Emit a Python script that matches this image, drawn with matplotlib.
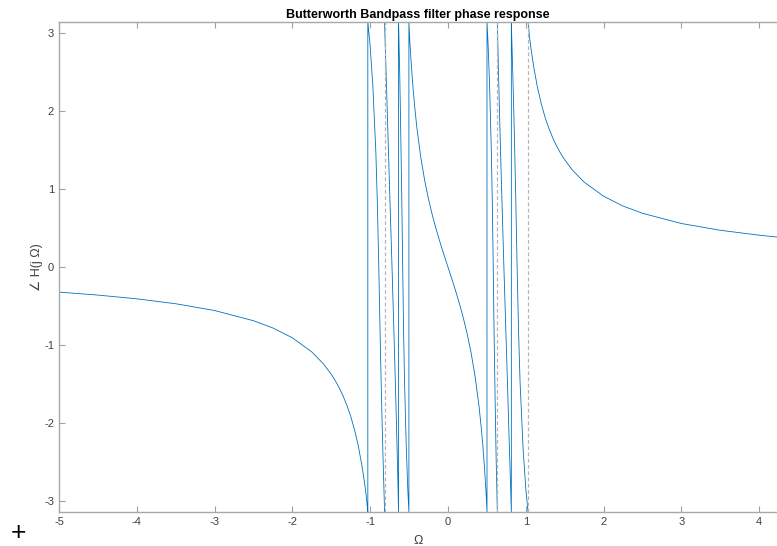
import numpy as np
import matplotlib
matplotlib.use("Agg")
from matplotlib import pyplot as plt

plt.rcParams['font.family'] = ['Liberation Sans', 'DejaVu Sans']
plt.rcParams['axes.unicode_minus'] = False

PI = np.pi

# branch A: far left, down to the first wrap
om_a = [-5.0, -4.5, -4.0, -3.5, -3.0, -2.5, -2.25, -2.0, -1.75, -1.6, -1.5, -1.45, -1.4, -1.35,
        -1.3, -1.25, -1.2, -1.15, -1.1, -1.07, -1.05, -1.04, -1.03]
ph_a = [-0.322, -0.36, -0.408, -0.471, -0.558, -0.689, -0.782, -0.908, -1.089, -1.243, -1.376, -1.455,
        -1.545, -1.649, -1.772, -1.914, -2.091, -2.306, -2.581, -2.784, -2.938, -3.039, -PI]
# steep wrapped branches on the left
om_b = [-1.03, -1.002, -0.966, -0.927, -0.908, -0.889, -0.871, -0.853, -0.835, -0.817, -0.815]
ph_b = [PI, 2.858, 2.334, 1.475, 0.837, 0.0, -0.917, -1.731, -2.429, -3.054, -PI]
om_c = [-0.815, -0.8, -0.783, -0.767, -0.751, -0.735, -0.719, -0.704, -0.689, -0.674, -0.660, -0.646, -0.635]
ph_c = [PI, 2.647, 2.091, 1.555, 1.030, 0.514, 0.0, -0.514, -1.030, -1.555, -2.091, -2.647, -PI]
om_d = [-0.635, -0.633, -0.619, -0.607, -0.594, -0.582, -0.570, -0.558, -0.535, -0.516, -0.502]
ph_d = [PI, 3.054, 2.429, 1.731, 0.917, 0.0, -0.837, -1.475, -2.334, -2.858, -PI]
# centre branch
om_e = [-0.502, -0.49, -0.47, -0.45, -0.43, -0.4, -0.35, -0.3, -0.25, -0.2, -0.15, -0.1, -0.05, 0.0,
        0.05, 0.1, 0.15, 0.2, 0.25, 0.3, 0.35, 0.4, 0.43, 0.45, 0.47, 0.49, 0.502]
ph_e = [PI, 2.89, 2.58, 2.31, 2.08, 1.79, 1.411, 1.114, 0.870, 0.662, 0.479, 0.311, 0.153, 0.0,
        -0.153, -0.311, -0.479, -0.662, -0.870, -1.114, -1.411, -1.79, -2.08, -2.31, -2.58, -2.89, -PI]
# steep wrapped branches on the right
om_f = [0.502, 0.516, 0.535, 0.558, 0.570, 0.582, 0.594, 0.607, 0.619, 0.633, 0.635]
ph_f = [PI, 2.858, 2.334, 1.475, 0.837, 0.0, -0.917, -1.731, -2.429, -3.054, -PI]
om_g = [0.635, 0.646, 0.660, 0.674, 0.689, 0.704, 0.719, 0.735, 0.751, 0.767, 0.783, 0.8, 0.815]
ph_g = [PI, 2.647, 2.091, 1.555, 1.030, 0.514, 0.0, -0.514, -1.030, -1.555, -2.091, -2.647, -PI]
om_h = [0.815, 0.817, 0.835, 0.853, 0.871, 0.889, 0.908, 0.927, 0.966, 1.002, 1.03]
ph_h = [PI, 3.054, 2.429, 1.731, 0.917, 0.0, -0.837, -1.475, -2.334, -2.858, -PI]
# branch I: far right
om_i = [1.03, 1.04, 1.05, 1.07, 1.1, 1.15, 1.2, 1.25, 1.3, 1.35, 1.4, 1.45, 1.5, 1.6, 1.75,
        2.0, 2.25, 2.5, 3.0, 3.5, 4.0, 4.23]
ph_i = [PI, 3.039, 2.938, 2.784, 2.581, 2.306, 2.091, 1.914, 1.772, 1.649, 1.545, 1.455, 1.376,
        1.243, 1.089, 0.908, 0.782, 0.689, 0.558, 0.471, 0.408, 0.384]

# wraps drawn as grey dashed lines instead of blue
dashed_at = [-0.815, 0.635, 1.03]

groups = [(om_a + om_b, ph_a + ph_b),
          (om_c + om_d + om_e + om_f, ph_c + ph_d + ph_e + ph_f),
          (om_g + om_h, ph_g + ph_h),
          (om_i, ph_i)]

fig = plt.figure(figsize=(7.77, 5.46), dpi=100)
ax = fig.add_axes([59/777, 1-512/546, 1-59/777, 490/546])

for x, y in groups:
    ax.plot(x, y, color='#0072BD', lw=0.6)
for xd in dashed_at:
    ax.axvline(xd, color='#b5b5b5', lw=0.9, ls=(0, (3, 2)))

ax.set_xlim(-5, 4.23)
ax.set_ylim(-PI, PI)
ax.set_xticks(np.arange(-5, 5))
ax.set_yticks(np.arange(-3, 4))
ax.tick_params(direction='in', length=4, top=True, right=False,
               color='#a0a0a0', labelcolor='#404040', labelsize=8, width=0.8)
for s in ['left', 'bottom', 'top']:
    ax.spines[s].set_color('#a8a8a8')
    ax.spines[s].set_linewidth(1.0)
ax.spines['right'].set_visible(False)

ax.set_title('Butterworth Bandpass filter phase response', fontsize=9, fontweight='bold', pad=3)
ax.set_xlabel('Ω', fontsize=9, color='#404040', labelpad=6)
ax.set_ylabel('∠ H(j Ω)', fontsize=9, color='#404040', labelpad=1)

fig.text(18/777, 1-533/546, '+', ha='center', va='center', fontsize=19, color='black')

fig.savefig('out.png', dpi=100)
